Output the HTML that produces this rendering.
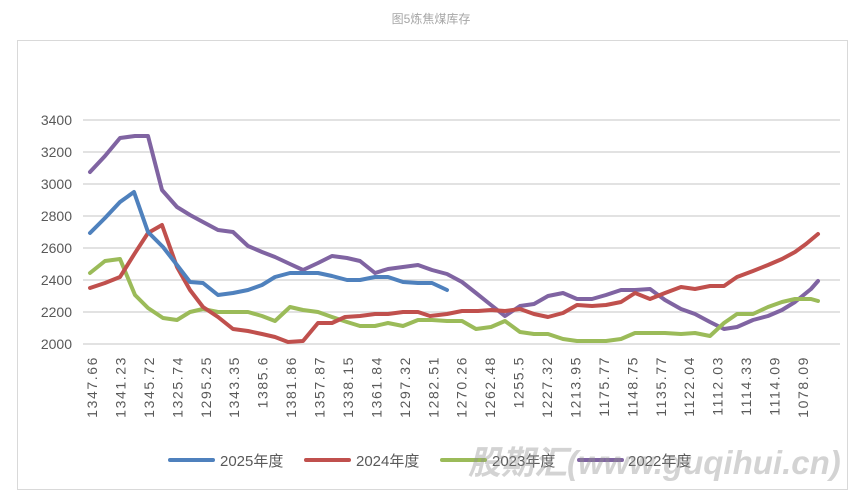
<!DOCTYPE html>
<html><head><meta charset="utf-8"><style>
body{margin:0;background:#fff;}
svg{display:block;font-family:"Liberation Sans","Noto Sans CJK SC",sans-serif;}
</style></head><body>
<svg width="863" height="494" xmlns="http://www.w3.org/2000/svg">
<rect x="0" y="0" width="863" height="494" fill="#fff"/>
<rect x="17.5" y="40.5" width="830" height="449" fill="none" stroke="#d9d9d9"/>
<text x="431" y="23" text-anchor="middle" font-size="12" fill="#a6a6a6">图5炼焦煤库存</text>
<g stroke="#d9d9d9" stroke-width="1.5">
<line x1="83" y1="120" x2="840" y2="120"/><line x1="83" y1="152" x2="840" y2="152"/>
<line x1="83" y1="184" x2="840" y2="184"/><line x1="83" y1="216" x2="840" y2="216"/>
<line x1="83" y1="248" x2="840" y2="248"/><line x1="83" y1="280" x2="840" y2="280"/>
<line x1="83" y1="312" x2="840" y2="312"/><line x1="83" y1="344" x2="840" y2="344"/>
</g>
<g font-size="14" fill="#595959" text-anchor="end">
<text x="72" y="125">3400</text><text x="72" y="157">3200</text><text x="72" y="189">3000</text>
<text x="72" y="221">2800</text><text x="72" y="253">2600</text><text x="72" y="285">2400</text>
<text x="72" y="317">2200</text><text x="72" y="349">2000</text>
</g>
<g font-size="14" fill="#595959" text-anchor="end" letter-spacing="1.6">
<text transform="translate(97,356) rotate(-90)">1347.66</text>
<text transform="translate(125.4,356) rotate(-90)">1341.23</text>
<text transform="translate(153.9,356) rotate(-90)">1345.72</text>
<text transform="translate(182.3,356) rotate(-90)">1325.74</text>
<text transform="translate(210.8,356) rotate(-90)">1295.25</text>
<text transform="translate(239.2,356) rotate(-90)">1343.35</text>
<text transform="translate(267.6,356) rotate(-90)">1385.6</text>
<text transform="translate(296.1,356) rotate(-90)">1381.86</text>
<text transform="translate(324.5,356) rotate(-90)">1357.87</text>
<text transform="translate(353,356) rotate(-90)">1338.15</text>
<text transform="translate(381.4,356) rotate(-90)">1361.84</text>
<text transform="translate(409.8,356) rotate(-90)">1297.32</text>
<text transform="translate(438.3,356) rotate(-90)">1282.51</text>
<text transform="translate(466.7,356) rotate(-90)">1270.26</text>
<text transform="translate(495.2,356) rotate(-90)">1262.48</text>
<text transform="translate(523.6,356) rotate(-90)">1255.5</text>
<text transform="translate(552,356) rotate(-90)">1227.32</text>
<text transform="translate(580.5,356) rotate(-90)">1213.95</text>
<text transform="translate(608.9,356) rotate(-90)">1175.77</text>
<text transform="translate(637.4,356) rotate(-90)">1148.75</text>
<text transform="translate(665.8,356) rotate(-90)">1135.77</text>
<text transform="translate(694.2,356) rotate(-90)">1122.04</text>
<text transform="translate(722.7,356) rotate(-90)">1112.03</text>
<text transform="translate(751.1,356) rotate(-90)">1114.33</text>
<text transform="translate(779.6,356) rotate(-90)">1114.09</text>
<text transform="translate(808,356) rotate(-90)">1078.09</text>
</g>
<g fill="none" stroke-width="4" stroke-linejoin="round" stroke-linecap="round">
<polyline stroke="#8064a2" points="90,172 105,156 120,138 135,136 148,136 162,190 177,207 190,215 203,222 218,230 233,232 248,246 262,252 275,257 290,264 303,270 318,263 332,256 347,258 360,261 375,273 388,269 403,267 418,265 432,270 447,274 462,282 476,293 491,305 505,316 520,306 534,304 548,296 563,293 577,299 592,299 606,295 621,290 635,290 650,289 665,300 681,309 695,314 710,322 724,329 737,327 753,320 768,316 782,310 795,302 811,289 818,281"/>
<polyline stroke="#9bbb59" points="90,273 105,261 120,259 135,295 148,308 163,318 177,320 190,312 203,309 218,312 233,312 248,312 262,316 275,321 290,307 303,310 318,312 332,317 347,322 360,326 375,326 388,323 403,326 418,320 432,320 447,321 462,321 476,329 491,327 505,321 520,332 534,334 548,334 563,339 577,341 592,341 606,341 621,339 635,333 650,333 665,333 681,334 695,333 710,336 724,323 737,314 753,314 768,307 782,302 795,299 811,299 818,301"/>
<polyline stroke="#c0504d" points="90,288 105,283 120,277 135,253 148,233 162,225 177,267 190,290 203,307 218,317 233,329 248,331 262,334 275,337 288,342 303,341 318,323 332,323 345,317 360,316 375,314 388,314 403,312 418,312 430,316 447,314 462,311 478,311 491,310 505,311 520,309 534,314 548,317 563,313 577,305 592,306 606,305 621,302 635,293 650,299 665,293 681,287 695,289 710,286 724,286 737,277 753,271 768,265 782,259 795,252 806,244 818,234"/>
<polyline stroke="#4f81bd" points="90,233 105,218 120,202 134,192 148,232 163,247 177,265 190,282 203,283 218,295 233,293 248,290 262,285 275,277 290,273 303,273 318,273 332,276 347,280 360,280 375,277 388,277 403,282 418,283 432,283 447,290"/>
</g>
<g stroke-width="4" stroke-linecap="round">
<line x1="170" y1="460" x2="213" y2="460" stroke="#4f81bd"/>
<line x1="306" y1="460" x2="349" y2="460" stroke="#c0504d"/>
<line x1="442" y1="460" x2="485" y2="460" stroke="#9bbb59"/>
<line x1="579" y1="460" x2="622" y2="460" stroke="#8064a2"/>
</g>
<g font-size="15" fill="#595959">
<text x="220" y="466">2025年度</text><text x="356" y="466">2024年度</text>
<text x="492" y="466">2023年度</text><text x="628" y="466">2022年度</text>
</g>
<text x="468" y="474" font-size="33" font-weight="bold" font-style="italic" fill="#909090" fill-opacity="0.4">股期汇(www.guqihui.cn)</text>
</svg>
</body></html>
